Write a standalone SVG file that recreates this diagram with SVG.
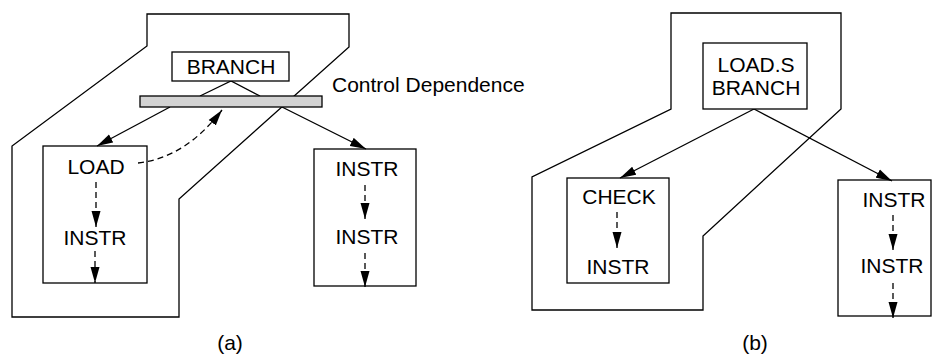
<svg xmlns="http://www.w3.org/2000/svg" width="932" height="356" viewBox="0 0 932 356">
<defs>
<marker id="ah" markerWidth="16" markerHeight="10" refX="16" refY="5" orient="auto" markerUnits="userSpaceOnUse">
<path d="M0,0.5 L16,5 L0,9.5 z" fill="#000"/>
</marker>
<style>
.ln{fill:none;stroke:#000;stroke-width:1.3}
.box{fill:#fff;stroke:#000;stroke-width:1.3}
.dash{fill:none;stroke:#000;stroke-width:1.3;stroke-dasharray:6 4}
.t{font-family:"Liberation Sans",Arial,sans-serif;font-size:21px;fill:#000;text-anchor:middle}
.tl{font-family:"Liberation Sans",Arial,sans-serif;font-size:21px;fill:#000}
</style>
</defs>
<rect width="932" height="356" fill="#fff"/>

<g id="region-a">
<polygon class="ln" points="147,14 349,14 349,47 179,199 179,317 12,317 12,146 147,46"/>
</g>
<g id="region-b">
<polygon class="ln" points="671,13 841,13 841,109 703,236 703,310 532,310 532,177 671,109"/>
</g>

<g id="connectors">
<polyline class="ln" points="200,96 231,81 260,96"/>
<line class="ln" x1="170" y1="107" x2="97" y2="146" marker-end="url(#ah)"/>
<line class="ln" x1="282" y1="107" x2="366" y2="149" marker-end="url(#ah)"/>
<path class="dash" d="M138,163 Q185,158 222,110" marker-end="url(#ah)"/>
<line class="dash" x1="96" y1="182" x2="96" y2="227" marker-end="url(#ah)"/>
<line class="dash" x1="95" y1="251" x2="95" y2="283" marker-end="url(#ah)"/>
<line class="dash" x1="365" y1="185" x2="365" y2="219" marker-end="url(#ah)"/>
<line class="dash" x1="365" y1="253" x2="365" y2="287" marker-end="url(#ah)"/>
<line class="ln" x1="754" y1="109" x2="620" y2="178" marker-end="url(#ah)"/>
<line class="ln" x1="754" y1="109" x2="892" y2="181" marker-end="url(#ah)"/>
<line class="dash" x1="617" y1="212" x2="617" y2="248" marker-end="url(#ah)"/>
<line class="dash" x1="893" y1="215" x2="893" y2="250" marker-end="url(#ah)"/>
<line class="dash" x1="893" y1="283" x2="893" y2="318" marker-end="url(#ah)"/>
</g>

<g id="branch-a">
<rect class="box" x="172" y="52" width="117" height="29"/>
<text class="t" x="231" y="74">BRANCH</text>
</g>
<g id="control-bar">
<rect x="140" y="96" width="182" height="11" fill="#d3d3d3" stroke="#000" stroke-width="1.3"/>
<text class="tl" x="332" y="92">Control Dependence</text>
</g>
<g id="load-block">
<rect class="ln" x="43" y="146" width="104" height="137"/>
<text class="t" x="96" y="174">LOAD</text>
<text class="t" x="95" y="245">INSTR</text>
</g>
<g id="instr-block-a">
<rect class="ln" x="314" y="149" width="102" height="137"/>
<text class="t" x="367" y="176">INSTR</text>
<text class="t" x="367" y="244">INSTR</text>
</g>
<g id="label-a">
<text class="t" x="230" y="350">(a)</text>
</g>

<g id="loads-branch">
<rect class="box" x="703" y="43" width="104" height="66"/>
<text class="t" x="756" y="72">LOAD.S</text>
<text class="t" x="756" y="95">BRANCH</text>
</g>
<g id="check-block">
<rect class="ln" x="567" y="178" width="102" height="105"/>
<text class="t" x="619" y="204">CHECK</text>
<text class="t" x="618" y="274">INSTR</text>
</g>
<g id="instr-block-b">
<rect class="ln" x="838" y="180" width="93" height="136"/>
<text class="t" x="894" y="207">INSTR</text>
<text class="t" x="892" y="273">INSTR</text>
</g>
<g id="label-b">
<text class="t" x="755" y="350">(b)</text>
</g>
</svg>
